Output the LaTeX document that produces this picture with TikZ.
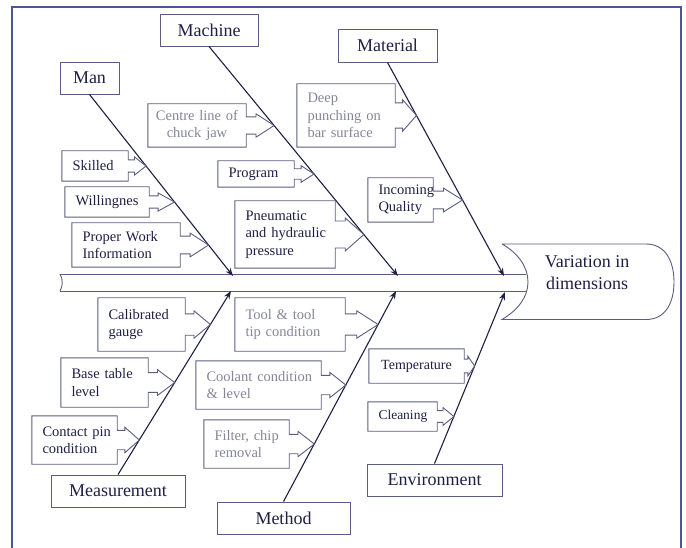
\documentclass[tikz,border=0pt]{standalone}
\usepackage{fontspec}
\setmainfont{Liberation Serif}
\usetikzlibrary{calc,arrows.meta}
\hyphenpenalty=10000
\exhyphenpenalty=10000

\definecolor{framecol}{HTML}{4E5596}
\definecolor{inkcol}{HTML}{1F1F45}
\definecolor{linecol}{HTML}{5C5C80}
\definecolor{greytext}{HTML}{85859A}

\tikzset{
  category/.style={draw=linecol, line width=0.9pt, text=inkcol, inner sep=0pt,
    font=\fontsize{18}{20}\selectfont},
  cause/.style={text=inkcol, inner xsep=10.5pt, inner ysep=0pt, align=left,
    font=\fontsize{14.5}{17.3}\selectfont},
  faded/.style={text=greytext},
  bone/.style={draw=inkcol, line width=1.1pt, -{Stealth[length=8pt,width=6pt]}},
  boxline/.style={draw=linecol, line width=0.9pt},
}

% box outline with its arrow pointing onto a bone (#2--#3)
\newcommand{\causebox}[3]{%
  \coordinate (#1-tip) at (intersection of #1.west--#1.east and #2--#3);
  \draw[boxline] let \p1=(#1.north east), \p2=(#1.south east), \p3=(#1-tip),
      \p4=($(#1.east)!0.35!(#1-tip)$), \n1={0.2*(\y1-\y2)}, \n2={\n1+3} in
    (#1.north west) -- (\p1) -- (\x1,\y3+\n1) -- (\x4,\y3+\n1) -- (\x4,\y3+\n2)
    -- (\p3) -- (\x4,\y3-\n2) -- (\x4,\y3-\n1) -- (\x1,\y3-\n1) -- (\p2)
    -- (#1.south west) -- cycle;
}

\begin{document}
\begin{tikzpicture}[x=1pt,y=-1pt]
  \useasboundingbox (0,0) rectangle (686,548);
  \draw[framecol, line width=2pt] (12,548) -- (12,7) -- (681,7) -- (681,548);

  % spine and head
  \draw[boxline] (60,274) -- (526,274);
  \draw[boxline] (60,291) -- (526,291);
  \draw[boxline] (60,274) .. controls (63,279) and (63,286) .. (60,291);
  \draw[boxline] (502,244) -- (646,244) .. controls (666,244) and (674,262) .. (674,282)
    .. controls (674,302) and (666,319.5) .. (646,319.5) -- (502,319.5)
    .. controls (518,310) and (528,297) .. (528,282)
    .. controls (528,267) and (518,253) .. (502,244);
  \node[text=inkcol, align=center, font=\fontsize{18}{22}\selectfont] (Effect)
    at (587,272.5) {Variation in\\dimensions};

  % main categories
  \node[category, minimum width=59pt, minimum height=32pt] (Man) at (89.5,78) {Man};
  \node[category, minimum width=98pt, minimum height=32pt] (Machine) at (209,30) {Machine};
  \node[category, minimum width=99pt, minimum height=33pt] (Material) at (387.5,45.5) {Material};
  \node[category, minimum width=134pt, minimum height=32pt] (Measurement) at (118,491) {Measurement};
  \node[category, minimum width=133pt, minimum height=32pt] (Method) at (283.5,518) {Method};
  \node[category, minimum width=135pt, minimum height=32pt] (Environment) at (434.5,480) {Environment};

  \coordinate (man-end) at (233,276);
  \coordinate (machine-end) at (398,276);
  \coordinate (material-end) at (504,276);
  \coordinate (measure-end) at (231,291);
  \coordinate (method-end) at (396,291);
  \coordinate (env-end) at (505,292);

  \draw[bone] (Man.south) -- (man-end);
  \draw[bone] (Machine.south) -- (machine-end);
  \draw[bone] (Material.south) -- (material-end);
  \draw[bone] (Measurement.north) -- (measure-end);
  \draw[bone] (Method.north) -- (method-end);
  \draw[bone] (Environment.north) -- (env-end);

  % causes
  \node[cause, text width=45pt, minimum height=30pt] (Skilled) at (95,166) {Skilled};
  \node[cause, text width=63pt, minimum height=30pt] (Willing) at (107,202) {Willingnes};
  \node[cause, text width=87pt, minimum height=44pt] (Proper) at (126,245) {Proper Work\\Information};
  \node[cause, faded, align=center, inner xsep=7pt, text width=84pt, minimum height=43pt] (Centre)
    at (197,125.5) {Centre line of\\chuck jaw};
  \node[cause, text width=55pt, minimum height=26pt] (Program) at (256,174) {Program};
  \node[cause, text width=79pt, minimum height=67pt] (Pneumatic) at (285,234.5)
    {Pneumatic\\and~hydraulic\\pressure};
  \node[cause, faded, text width=77pt, minimum height=63pt] (Deep) at (346,115.5)
    {Deep\\punching~on\\bar~surface};
  \node[cause, text width=44pt, minimum height=44pt] (Incoming) at (400.5,200) {Incoming\\Quality};
  \node[cause, text width=66pt, minimum height=53pt] (Calibrated) at (141.5,324.5) {Calibrated\\gauge};
  \node[cause, text width=66pt, minimum height=49pt] (Base) at (104.5,382.5) {Base~table\\level};
  \node[cause, text width=64pt, minimum height=48pt] (Contact) at (74.5,440) {Contact~pin\\condition};
  \node[cause, faded, text width=89pt, minimum height=53pt] (Tool) at (290,324.5)
    {Tool~\&~tool\\tip~condition};
  \node[cause, faded, text width=104pt, minimum height=48pt] (Coolant) at (258.5,385)
    {Coolant~condition\\\&~level};
  \node[cause, faded, text width=64pt, minimum height=48pt] (Filter) at (246.5,444)
    {Filter,~chip\\removal};
  \node[cause, align=center, text width=74pt, minimum height=34pt, font=\fontsize{14}{16}\selectfont]
    (Temperature) at (416.5,366) {Temperature};
  \node[cause, align=center, text width=48pt, minimum height=29pt, font=\fontsize{13.5}{16}\selectfont]
    (Cleaning) at (402.5,416.5) {Cleaning};

  \causebox{Skilled}{Man.south}{man-end}
  \causebox{Willing}{Man.south}{man-end}
  \causebox{Proper}{Man.south}{man-end}
  \causebox{Centre}{Machine.south}{machine-end}
  \causebox{Program}{Machine.south}{machine-end}
  \causebox{Pneumatic}{Machine.south}{machine-end}
  \causebox{Deep}{Material.south}{material-end}
  \causebox{Incoming}{Material.south}{material-end}
  \causebox{Calibrated}{Measurement.north}{measure-end}
  \causebox{Base}{Measurement.north}{measure-end}
  \causebox{Contact}{Measurement.north}{measure-end}
  \causebox{Tool}{Method.north}{method-end}
  \causebox{Coolant}{Method.north}{method-end}
  \causebox{Filter}{Method.north}{method-end}
  \causebox{Temperature}{Environment.north}{env-end}
  \causebox{Cleaning}{Environment.north}{env-end}
\end{tikzpicture}
\end{document}
